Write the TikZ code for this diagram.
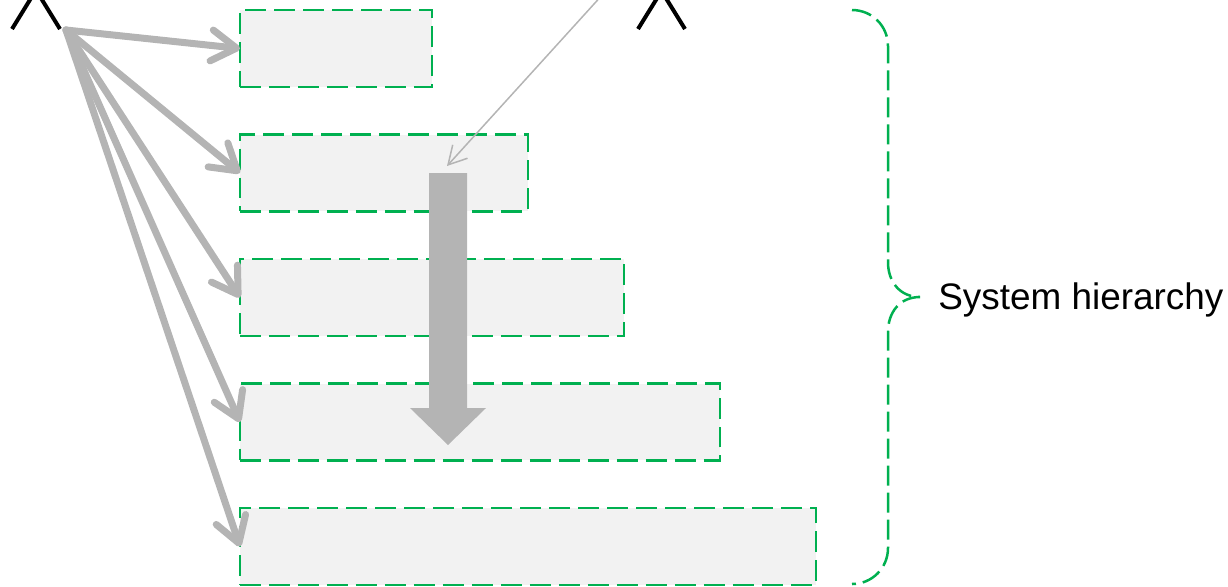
\documentclass[tikz,border=0pt]{standalone}
\usepackage{fontspec}
\setmainfont{Liberation Sans}
\usetikzlibrary{positioning, arrows.meta}
\definecolor{lvlgreen}{RGB}{0,176,80}
\definecolor{arrowgrey}{RGB}{180,180,180}
\definecolor{lvlfill}{RGB}{242,242,242}

\begin{document}
\begin{tikzpicture}[x=0.02cm, y=-0.02cm,
  level/.style={draw=lvlgreen, fill=lvlfill, line width=0.055cm, dash pattern=on 0.42cm off 0.16cm,
    anchor=north west, inner sep=0, outer sep=0, minimum height=1.54cm},
  legline/.style={line width=0.08cm},
  userarrow/.style={arrowgrey, line width=0.14cm, line cap=round, line join=round,
    -{Straight Barb[length=0.5cm, width=0.62cm, line cap=round, line join=round]}},
  thinarrow/.style={arrowgrey, line width=0.03cm,
    -{Straight Barb[length=0.36cm, width=0.4cm]}},
  hierbrace/.style={lvlgreen, line width=0.05cm, dash pattern=on 0.4cm off 0.14cm}]
  \useasboundingbox (0,0) rectangle (1228,586);
  \clip (0,0) rectangle (1228,586);

  % two actors, only the legs are visible
  \draw[legline] (12,29) -- (36,-10) -- (60,29);
  \draw[legline] (638,29) -- (661.5,-9) -- (685,29);
  \coordinate (userA) at (66,30);
  \coordinate (userB) at (604,-7);
  \coordinate (focus) at (447,166);

  % levels of the hierarchy
  \foreach \i in {1,...,5}
    \node[level, minimum width={1.92cm*(\i+1)}] (lvl\i) at (240,{10+124.5*(\i-1)}) {};

  \foreach \i in {1,...,5}
    \draw[userarrow] (userA) -- (lvl\i.west);
  \draw[thinarrow] (userB) -- (focus);

  % downward flow
  \fill[arrowgrey] (429,173) -- (467,173) -- (467,408) -- (486,408) -- (448,445)
    -- (410,408) -- (429,408) -- cycle;

  % brace
  \draw[hierbrace] (852,10) .. controls (872,10) and (888,26) .. (888,46) -- (888,262)
    .. controls (888,282) and (900,297) .. (920,297)
    .. controls (900,297) and (888,312) .. (888,332) -- (888,548)
    .. controls (888,568) and (872,584) .. (852,584);
  \node[anchor=west, inner sep=0, font=\fontsize{21}{25}\selectfont] (hier) at (938,300) {System hierarchy};
\end{tikzpicture}
\end{document}
